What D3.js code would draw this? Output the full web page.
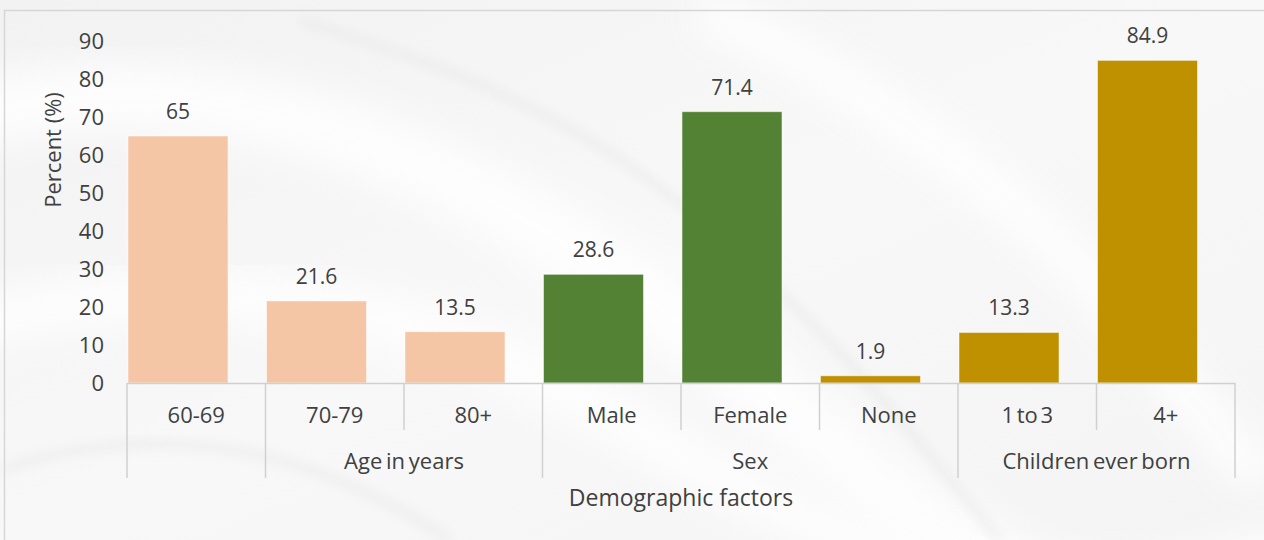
<!DOCTYPE html>
<html>
<head>
<meta charset="utf-8">
<script src="https://cdn.jsdelivr.net/npm/d3@7"></script>
<style>
  html, body { margin: 0; padding: 0; background: #f5f5f5; }
  svg { display: block; }
  text { font-family: "Open Sans", "Liberation Sans", sans-serif; fill: #404040; }
</style>
</head>
<body>
<div id="chart"></div>
<script>
const categories = ["60-69", "70-79", "80+", "Male", "Female", "None", "1 to 3", "4+"];
const values = [65, 21.6, 13.5, 28.6, 71.4, 1.9, 13.3, 84.9];
const seriesOf = ["age", "age", "age", "sex", "sex", "children", "children", "children"];
const groupLabels = ["", "Age in years", "Sex", "Children ever born"];
const groupSizes = [1, 2, 3, 2];
const yTicks = [0, 10, 20, 30, 40, 50, 60, 70, 80, 90];
const axisTitle = "Demographic factors";
const yTitle = "Percent (%)";

const W = 1264, H = 540;
const margin = { left: 127, right: 29, top: 41, zeroY: 383 };

const colorScale = d3.scaleOrdinal()
  .domain(["age", "sex", "children"])
  .range(["#f5c6a5", "#548235", "#bf9000"]);

const svg = d3.select("#chart").append("svg")
  .attr("width", W)
  .attr("height", H);

// silky background
const defs = svg.append("defs");
const bg = defs.append("linearGradient").attr("id", "bg")
  .attr("x1", 0).attr("y1", 0).attr("x2", 1).attr("y2", 1);
bg.append("stop").attr("offset", "0%").attr("stop-color", "#f2f2f2");
bg.append("stop").attr("offset", "50%").attr("stop-color", "#f8f8f8");
bg.append("stop").attr("offset", "100%").attr("stop-color", "#f4f4f4");
defs.append("filter").attr("id", "soft")
  .append("feGaussianBlur").attr("stdDeviation", 6);
defs.append("filter").attr("id", "softer")
  .append("feGaussianBlur").attr("stdDeviation", 18);

svg.append("rect").attr("width", W).attr("height", H).attr("fill", "url(#bg)");

const silk = svg.append("g");
silk.append("path")
  .attr("d", "M-50,120 C250,40 520,180 800,420 S1100,600 1300,560")
  .attr("fill", "none").attr("stroke", "#ffffff").attr("stroke-width", 70)
  .attr("opacity", 0.8).attr("filter", "url(#softer)");
silk.append("path")
  .attr("d", "M-50,330 C200,260 420,300 620,420 S900,560 1000,600")
  .attr("fill", "none").attr("stroke", "#ffffff").attr("stroke-width", 50)
  .attr("opacity", 0.8).attr("filter", "url(#softer)");
silk.append("path")
  .attr("d", "M300,20 C420,60 560,100 700,220 S900,420 1000,540")
  .attr("fill", "none").attr("stroke", "#e4e4e4").attr("stroke-width", 6)
  .attr("opacity", 0.7).attr("filter", "url(#soft)");
silk.append("path")
  .attr("d", "M700,10 C820,60 940,140 1040,230 S1200,420 1264,480")
  .attr("fill", "none").attr("stroke", "#ffffff").attr("stroke-width", 40)
  .attr("opacity", 0.9).attr("filter", "url(#softer)");
silk.append("path")
  .attr("d", "M0,470 C150,420 300,440 450,540")
  .attr("fill", "none").attr("stroke", "#e6e6e6").attr("stroke-width", 8)
  .attr("opacity", 0.6).attr("filter", "url(#soft)");

// frame
svg.append("path")
  .attr("d", `M4.5,${H} V10.5 H${W}`)
  .attr("fill", "none")
  .attr("stroke", "#d6d6d6")
  .attr("stroke-width", 1.5);

const x = d3.scaleBand()
  .domain(categories)
  .range([margin.left, W - margin.right])
  .paddingInner(0)
  .paddingOuter(0);

const y = d3.scaleLinear()
  .domain([0, 90])
  .range([margin.zeroY, margin.top]);

// y axis
const yAxis = svg.append("g")
  .attr("transform", `translate(104,0)`)
  .call(d3.axisLeft(y).tickValues(yTicks).tickSize(0).tickPadding(0));
yAxis.select(".domain").remove();
yAxis.selectAll("text")
  .attr("x", 0)
  .style("font-family", "\"Open Sans\", sans-serif")
  .style("font-size", "22px")
  .attr("fill", "#404040");

svg.append("text")
  .attr("transform", `translate(61,150) rotate(-90)`)
  .attr("text-anchor", "middle")
  .style("font-size", "22px")
  .text(yTitle);

// bars
const barW = 100;
svg.append("g").selectAll("rect")
  .data(categories)
  .enter()
  .append("rect")
  .attr("x", d => x(d) + 1)
  .attr("y", (d, i) => y(values[i]))
  .attr("width", barW)
  .attr("height", (d, i) => y(0) - y(values[i]))
  .attr("fill", (d, i) => colorScale(seriesOf[i]))
  .attr("stroke", "#ffffff")
  .attr("stroke-opacity", 0.5)
  .attr("stroke-width", 1);

svg.append("g").selectAll("text")
  .data(categories)
  .enter()
  .append("text")
  .attr("x", d => x(d) + 1 + barW / 2)
  .attr("y", (d, i) => y(values[i]) - 17)
  .attr("text-anchor", "middle")
  .style("font-size", "21px")
  .text((d, i) => values[i]);

// category axis
const lineColor = "#d0d0d0";
const axisG = svg.append("g");
axisG.append("line")
  .attr("x1", x.range()[0]).attr("x2", x.range()[1])
  .attr("y1", y(0) + 0.5).attr("y2", y(0) + 0.5)
  .attr("stroke", lineColor).attr("stroke-width", 1.5);

// group boundaries
const boundaries = [0];
groupSizes.forEach(s => boundaries.push(boundaries[boundaries.length - 1] + s));
const edgeX = i => i < categories.length ? x(categories[i]) : x.range()[1];

categories.forEach((c, i) => {
  if (i === 0) return;
  if (boundaries.includes(i)) return;
  axisG.append("line")
    .attr("x1", edgeX(i)).attr("x2", edgeX(i))
    .attr("y1", y(0)).attr("y2", 430)
    .attr("stroke", lineColor).attr("stroke-width", 1.5);
});
boundaries.forEach(b => {
  axisG.append("line")
    .attr("x1", edgeX(b)).attr("x2", edgeX(b))
    .attr("y1", y(0)).attr("y2", 478)
    .attr("stroke", lineColor).attr("stroke-width", 1.5);
});

axisG.selectAll(".cat")
  .data(categories)
  .enter()
  .append("text")
  .attr("class", "cat")
  .attr("x", d => x(d) + x.bandwidth() / 2)
  .attr("y", 423)
  .attr("text-anchor", "middle")
  .style("font-size", "22px")
  .style("word-spacing", "-3px")
  .text(d => d);

groupLabels.forEach((g, i) => {
  if (!g) return;
  const x0 = edgeX(boundaries[i]), x1 = edgeX(boundaries[i + 1]);
  axisG.append("text")
    .attr("x", (x0 + x1) / 2)
    .attr("y", 469)
    .attr("text-anchor", "middle")
    .style("font-size", "22px")
    .style("word-spacing", "-2px")
    .text(g);
});

svg.append("text")
  .attr("x", (x.range()[0] + x.range()[1]) / 2)
  .attr("y", 506)
  .attr("text-anchor", "middle")
  .style("font-size", "23px")
  .text(axisTitle);
</script>
</body>
</html>
